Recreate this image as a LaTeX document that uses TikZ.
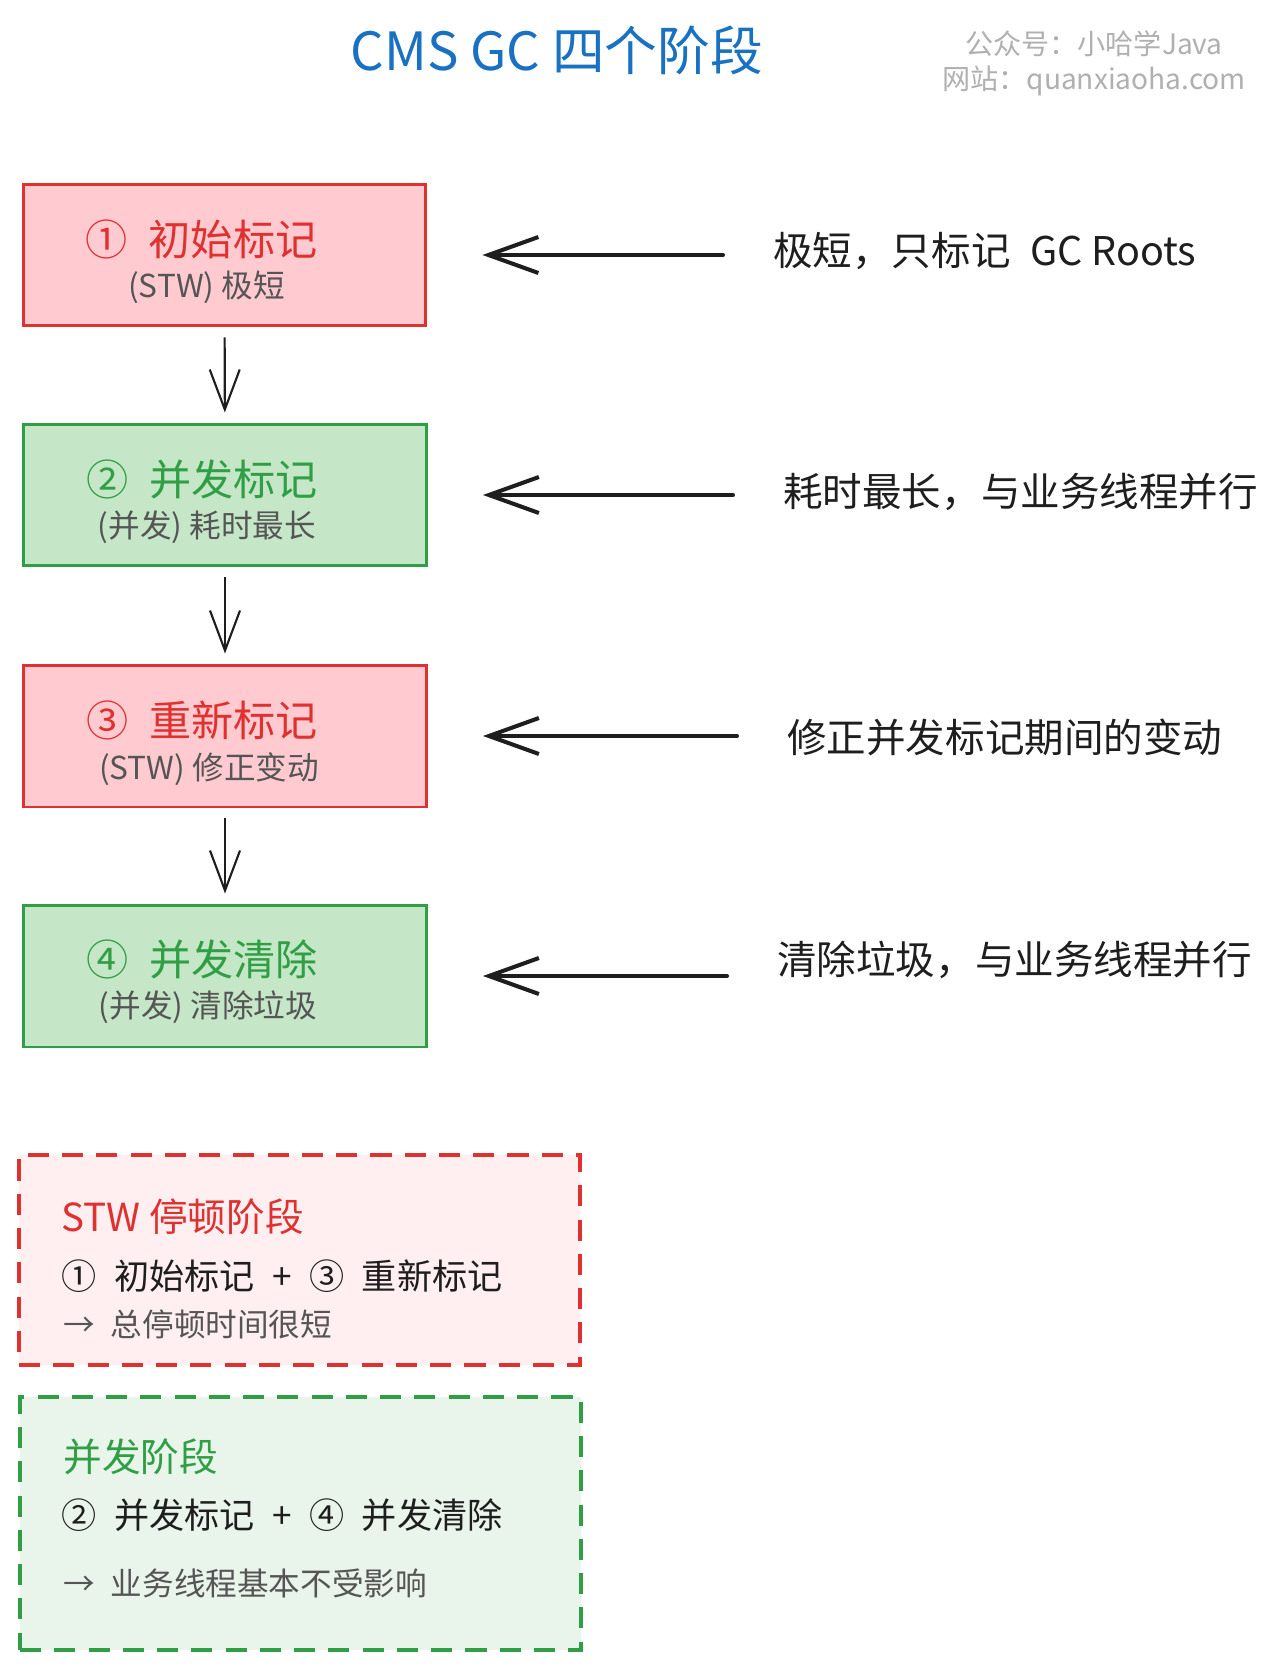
\documentclass[tikz,border=0pt]{standalone}
\usepackage{fontspec}
\setmainfont{Noto Sans CJK SC}
\usepackage{tikz}
\usepackage{xcolor}
\usetikzlibrary{arrows.meta,positioning}
\definecolor{stwline}{HTML}{E03131}
\definecolor{stwfill}{HTML}{FFCAD0}
\definecolor{stwlight}{HTML}{FFEFF0}
\definecolor{conline}{HTML}{2F9E44}
\definecolor{confill}{HTML}{C5E7C8}
\definecolor{conlight}{HTML}{E9F5EA}
\definecolor{titleblue}{HTML}{1971C2}
\definecolor{ink}{HTML}{1E1E1E}
\definecolor{note}{HTML}{555555}
\definecolor{wmgray}{HTML}{B0B0B0}

\begin{document}
\begin{tikzpicture}[x=0.02cm,y=-0.02cm,
    stwbox/.style={draw=stwline,fill=stwfill,line width=1.7pt,minimum width=8.06cm,minimum height=2.84cm},
    conbox/.style={draw=conline,fill=confill,line width=1.7pt,minimum width=8.06cm,minimum height=2.84cm},
    boxtitle/.style={inner sep=0pt,font=\fontsize{24}{28}\selectfont},
    boxsub/.style={inner sep=0pt,text=note,font=\fontsize{18}{21}\selectfont},
    notetext/.style={anchor=west,inner sep=0pt,text=ink,font=\fontsize{22.5}{26}\selectfont},
    flow/.style={draw=ink,line width=1.2pt,-{Straight Barb[length=0.8cm,width=0.6cm]},shorten <=0.2cm,shorten >=0.2cm},
    back/.style={draw=ink,line width=2.3pt,line cap=round,-{Straight Barb[length=1cm,width=0.72cm]},shorten <=1cm,shorten >=1.1cm},
    legend/.style={line width=2pt,dash pattern=on 12pt off 7.5pt,minimum width=11.22cm},
    legline/.style={anchor=west,inner sep=0pt}]
    \fill[white] (0,0) rectangle (1281,1670);
    \useasboundingbox (0,0) rectangle (1281,1670);
    % title and watermark
    \node[text=titleblue,font=\fontsize{30}{34}\selectfont] (title) at (557,50) {CMS GC 四个阶段};
    \node[text=wmgray,align=center,font=\fontsize{16}{20}\selectfont] (wm) at (1094,63) {公众号：小哈学Java\\网站：quanxiaoha.com};
    % the four phases
    \node[stwbox] (b1) at (224.5,255) {};
    \node[conbox] (b2) at (225,495) {};
    \node[stwbox] (b3) at (225,736) {};
    \node[conbox] (b4) at (225,976) {};
    \node[boxtitle,text=stwline] (t1) at ([shift={(-23,-16)}]b1.center) {①\enspace 初始标记};
    \node[boxsub] (s1) at ([shift={(-18,32)}]b1.center) {(STW) 极短};
    \node[boxtitle,text=conline] (t2) at ([shift={(-23,-16)}]b2.center) {②\enspace 并发标记};
    \node[boxsub] (s2) at ([shift={(-18,32)}]b2.center) {(并发) 耗时最长};
    \node[boxtitle,text=stwline] (t3) at ([shift={(-23,-16)}]b3.center) {③\enspace 重新标记};
    \node[boxsub] (s3) at ([shift={(-16,33)}]b3.center) {(STW) 修正变动};
    \node[boxtitle,text=conline] (t4) at ([shift={(-23,-17)}]b4.center) {④\enspace 并发清除};
    \node[boxsub] (s4) at ([shift={(-17,31)}]b4.center) {(并发) 清除垃圾};
    \draw[flow] (b1) -- (b2);
    \draw[flow] (b2) -- (b3);
    \draw[flow] (b3) -- (b4);
    % notes on the right
    \node[notetext] (n1) at (773,251) {极短，只标记\enspace GC Roots};
    \node[notetext] (n2) at (783,492) {耗时最长，与业务线程并行};
    \node[notetext] (n3) at (787,737) {修正并发标记期间的变动};
    \node[notetext] (n4) at (777,960) {清除垃圾，与业务线程并行};
    \draw[back] (n1.west |- b1.east) -- (b1.east);
    \draw[back] (n2.west |- b2.east) -- (b2.east);
    \draw[back] (n3.west |- b3.east) -- (b3.east);
    \draw[back] (n4.west |- b4.east) -- (b4.east);
    % legend
    \node[legend,draw=stwline,fill=stwlight,minimum height=4.2cm] (stw) at (299.5,1260) {};
    \node[legend,draw=conline,fill=conlight,minimum height=5.06cm] (con) at (300.5,1523.5) {};
    \node[legline,text=stwline,font=\fontsize{22}{26}\selectfont] (stwhead) at (61,1217) {STW 停顿阶段};
    \node[legline,text=ink,font=\fontsize{20}{24}\selectfont] (stwmain) at (61,1276) {①\enspace 初始标记\enspace+\enspace③\enspace 重新标记};
    \node[legline,text=note,font=\fontsize{18}{22}\selectfont] (stwnote) at (63,1324) {→\enspace 总停顿时间很短};
    \node[legline,text=conline,font=\fontsize{22}{26}\selectfont] (conhead) at (63,1457) {并发阶段};
    \node[legline,text=ink,font=\fontsize{20}{24}\selectfont] (conmain) at (61,1515) {②\enspace 并发标记\enspace+\enspace④\enspace 并发清除};
    \node[legline,text=note,font=\fontsize{18}{22}\selectfont] (connote) at (63,1583) {→\enspace 业务线程基本不受影响};
\end{tikzpicture}
\end{document}
